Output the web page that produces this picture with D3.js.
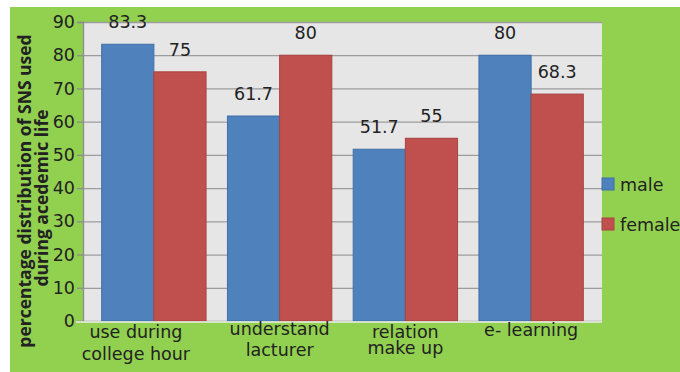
<!DOCTYPE html>
<html>
<head>
<meta charset="utf-8">
<script src="https://cdn.jsdelivr.net/npm/d3@7"></script>
<style>
  body { margin: 0; background: #fff; }
  svg { display: block; font-family: "DejaVu Sans", sans-serif; }
</style>
</head>
<body>
<div id="chart"></div>
<script>
// chart data
const categories = ['use during|college hour', 'understand|lacturer', 'relation|make up', 'e- learning'];
const seriesNames = ['male', 'female'];
const maleValues = [83.3, 61.7, 51.7, 80];
const femaleValues = [75, 80, 55, 68.3];
const yTicks = [0, 10, 20, 30, 40, 50, 60, 70, 80, 90];
const yTitle = ['percentage distribution of SNS used', 'during acedemic life'];

const colors = { male: '#4F81BD', female: '#C0504D' };
const strokes = { male: '#3F6FA8', female: '#A9423F' };

const width = 680, height = 372;
const plot = { left: 83, top: 22, right: 602, bottom: 321 };
const fs = 17.5;

const svg = d3.select('#chart').append('svg')
    .attr('width', width)
    .attr('height', height);

// green background with white margin top/left
svg.append('rect')
    .attr('x', 10).attr('y', 7)
    .attr('width', width - 10).attr('height', height - 7)
    .attr('fill', '#92D050');

// plot area
svg.append('rect')
    .attr('x', plot.left).attr('y', plot.top)
    .attr('width', plot.right - plot.left).attr('height', plot.bottom - plot.top)
    .attr('fill', '#E6E6E6');

const y = d3.scaleLinear().domain([0, 90]).range([plot.bottom, plot.top]);

const x0 = d3.scaleBand()
    .domain(categories)
    .range([91, 594])
    .paddingInner(0.17)
    .paddingOuter(0.085);

const x1 = d3.scaleBand()
    .domain(seriesNames)
    .range([0, x0.bandwidth()]);

// gridlines
svg.append('g')
    .attr('transform', `translate(${plot.left},0)`)
    .call(d3.axisLeft(y).tickValues(yTicks).tickSize(-(plot.right - plot.left)).tickFormat(''))
    .call(g => g.select('.domain').remove())
    .call(g => g.selectAll('line').attr('stroke', '#9C9C9C').attr('stroke-width', 1.3));

// bars
const rows = categories.map((c, i) => ({ cat: c, male: maleValues[i], female: femaleValues[i] }));

const groups = svg.selectAll('.group')
    .data(rows)
    .enter().append('g')
    .attr('class', 'group')
    .attr('transform', d => `translate(${x0(d.cat)},0)`);

const bars = groups.selectAll('g.bar')
    .data(d => seriesNames.map(s => ({ key: s, value: d[s] })))
    .enter().append('g')
    .attr('class', 'bar');

bars.append('rect')
    .attr('x', d => x1(d.key))
    .attr('y', d => y(d.value))
    .attr('width', x1.bandwidth())
    .attr('height', d => y(0) - y(d.value))
    .attr('fill', d => colors[d.key])
    .attr('stroke', d => strokes[d.key])
    .attr('stroke-width', 1);

bars.append('text')
    .attr('x', d => x1(d.key) + x1.bandwidth() / 2)
    .attr('y', d => y(d.value) - 16)
    .attr('text-anchor', 'middle')
    .attr('font-size', fs)
    .attr('fill', '#222')
    .text(d => d.value);

// y axis
const yAxis = svg.append('g')
    .attr('transform', `translate(${plot.left},0)`)
    .call(d3.axisLeft(y).tickValues(yTicks).tickSize(6).tickPadding(2));
yAxis.select('.domain').attr('stroke', '#8C8C8C').attr('stroke-width', 1.3);
yAxis.selectAll('line').attr('stroke', '#8C8C8C').attr('stroke-width', 1.3);
yAxis.selectAll('text').attr('font-size', fs).attr('font-family', '"DejaVu Sans", sans-serif').attr('fill', '#222');

// baseline (light)
svg.append('line')
    .attr('x1', 76).attr('x2', plot.right)
    .attr('y1', y(0) + 1).attr('y2', y(0) + 1)
    .attr('stroke', '#EEF6E4').attr('stroke-width', 1.5);

// x category labels
const labelShift = [-18, 0, 0, 0];
const lineGap = [22, 21, 16, 0];
const labelBase = [17, 14, 17, 15];
categories.forEach((c, i) => {
    const lines = c.split('|');
    const t = svg.append('text')
        .attr('text-anchor', 'middle')
        .attr('font-size', fs)
        .attr('fill', '#222')
        .attr('transform', `translate(${x0(c) + x0.bandwidth() / 2 + labelShift[i]},${plot.bottom + labelBase[i]})`);
    lines.forEach((l, j) => {
        t.append('tspan').attr('x', 0).attr('y', j * lineGap[i]).text(l);
    });
});

// y axis title
const titleX = [31, 48];
const titleY = [191, 198];
yTitle.forEach((line, i) => {
    svg.append('text')
        .attr('transform', `translate(${titleX[i]},${titleY[i]}) rotate(-90)`)
        .attr('text-anchor', 'middle')
        .attr('font-size', 17.5)
        .attr('font-weight', 'bold')
        .attr('font-family', '"Open Sans", sans-serif')
        .attr('fill', '#222')
        .text(line);
});

// legend
const legend = svg.append('g').attr('transform', 'translate(602,178)');
seriesNames.forEach((s, i) => {
    const g = legend.append('g').attr('transform', `translate(0,${i * 40})`);
    g.append('rect')
        .attr('width', 12).attr('height', 12)
        .attr('fill', colors[s])
        .attr('stroke', strokes[s]);
    g.append('text')
        .attr('x', 18).attr('y', 12.5)
        .attr('font-size', fs)
        .attr('fill', '#222')
        .text(s);
});
</script>
</body>
</html>
